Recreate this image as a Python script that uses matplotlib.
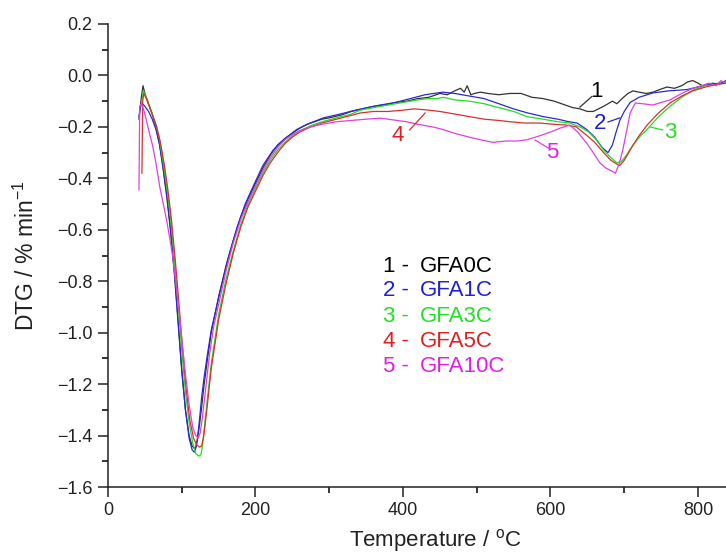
import matplotlib
matplotlib.use("Agg")
import matplotlib.pyplot as plt
from matplotlib.ticker import MultipleLocator

plt.rcParams['font.family'] = ['Liberation Sans', 'DejaVu Sans']
plt.rcParams['mathtext.fontset'] = 'custom'
plt.rcParams['mathtext.rm'] = 'Liberation Sans'
plt.rcParams['mathtext.it'] = 'Liberation Sans:italic'

# ---------------- data ----------------
T_0C = [42, 45, 47.5, 50, 55, 60, 65, 70, 75, 80, 85, 90, 95, 100, 105, 110, 114, 117, 119, 121, 124, 127, 130,
        135, 140, 150, 160, 170, 180, 190, 200, 210, 220, 230, 240, 250, 260, 270, 280, 290, 300, 315, 330, 345,
        360, 375, 390, 405, 420, 435, 450, 460, 470, 478, 483, 487, 492, 497, 505, 515, 530, 545, 560, 575, 590,
        605, 620, 630, 640, 650, 658, 665, 672, 678, 684, 690, 697, 705, 712, 720, 730, 739, 748, 758, 768, 778,
        786, 793, 800, 806, 812, 820, 828, 838]
y_0C = [-0.17, -0.09, -0.04, -0.07, -0.11, -0.15, -0.20, -0.27, -0.37, -0.48, -0.61, -0.77, -0.96, -1.15, -1.30,
        -1.40, -1.44, -1.45, -1.445, -1.42, -1.36, -1.29, -1.21, -1.10, -1.00, -0.86, -0.74, -0.64, -0.55, -0.48,
        -0.42, -0.36, -0.31, -0.27, -0.245, -0.225, -0.205, -0.19, -0.18, -0.17, -0.165, -0.155, -0.14, -0.13,
        -0.12, -0.115, -0.105, -0.10, -0.09, -0.085, -0.07, -0.075, -0.06, -0.05, -0.065, -0.04, -0.075, -0.07,
        -0.065, -0.07, -0.075, -0.07, -0.07, -0.085, -0.09, -0.10, -0.115, -0.125, -0.13, -0.14, -0.14, -0.13,
        -0.12, -0.11, -0.10, -0.11, -0.09, -0.07, -0.06, -0.065, -0.07, -0.065, -0.055, -0.045, -0.05, -0.04,
        -0.025, -0.02, -0.03, -0.04, -0.035, -0.03, -0.035, -0.02]

T_1C = [42, 44, 47, 50, 55, 60, 65, 70, 75, 80, 85, 90, 95, 100, 105, 110, 114, 117, 119, 121, 124, 127, 130, 134,
        140, 152, 163, 175, 186, 197, 210, 224, 240, 256, 270, 292, 315, 337, 369, 390, 410, 430, 454, 470, 490,
        510, 530, 550, 568, 590, 610, 625, 636, 649, 660, 670, 678, 684, 689, 694, 700, 708, 720, 739, 760, 785,
        800, 815, 830, 838]
y_1C = [-0.16, -0.12, -0.11, -0.12, -0.14, -0.17, -0.21, -0.27, -0.36, -0.47, -0.60, -0.76, -0.95, -1.14, -1.30,
        -1.41, -1.455, -1.465, -1.45, -1.42, -1.34, -1.25, -1.18, -1.10, -0.99, -0.84, -0.71, -0.59, -0.50, -0.43,
        -0.35, -0.29, -0.245, -0.21, -0.19, -0.165, -0.15, -0.134, -0.115, -0.105, -0.09, -0.075, -0.065, -0.07,
        -0.08, -0.09, -0.11, -0.13, -0.145, -0.16, -0.17, -0.18, -0.185, -0.21, -0.24, -0.28, -0.30, -0.27, -0.22,
        -0.175, -0.14, -0.105, -0.085, -0.068, -0.06, -0.055, -0.045, -0.035, -0.03, -0.03]

T_3C = [45, 48, 51, 55, 60, 65, 70, 75, 80, 85, 90, 95, 100, 105, 110, 115, 119, 123, 126, 128, 131, 135, 140, 150,
        160, 170, 180, 190, 200, 210, 220, 230, 240, 250, 260, 275, 290, 310, 330, 342, 360, 380, 400, 420, 435,
        446, 455, 470, 490, 510, 530, 550, 568, 590, 610, 626, 640, 652, 662, 672, 682, 690, 696, 703, 712, 722,
        731, 745, 762, 778, 793, 810, 825, 838]
y_3C = [-0.12, -0.06, -0.08, -0.11, -0.15, -0.19, -0.25, -0.34, -0.44, -0.56, -0.71, -0.89, -1.07, -1.23, -1.35,
        -1.43, -1.47, -1.48, -1.475, -1.44, -1.36, -1.25, -1.12, -0.93, -0.79, -0.68, -0.58, -0.50, -0.44, -0.38,
        -0.33, -0.29, -0.26, -0.235, -0.215, -0.195, -0.18, -0.165, -0.15, -0.135, -0.125, -0.115, -0.105, -0.095,
        -0.09, -0.09, -0.085, -0.095, -0.10, -0.11, -0.125, -0.14, -0.16, -0.17, -0.18, -0.185, -0.20, -0.22,
        -0.25, -0.29, -0.32, -0.34, -0.335, -0.31, -0.27, -0.235, -0.21, -0.165, -0.12, -0.085, -0.057, -0.04,
        -0.035, -0.03]

T_5C = [46, 47, 48.5, 52, 56, 61, 66, 71, 76, 81, 86, 91, 96, 101, 106, 111, 116, 120, 124, 127, 130, 134, 140,
        150, 160, 170, 180, 190, 200, 210, 220, 230, 240, 250, 260, 275, 290, 310, 330, 342, 360, 380, 400, 415,
        432, 450, 470, 490, 510, 530, 545, 565, 585, 605, 622, 635, 648, 660, 672, 682, 690, 694, 700, 710, 720,
        731, 745, 762, 778, 793, 810, 825, 838]
y_5C = [-0.38, -0.10, -0.07, -0.09, -0.12, -0.16, -0.20, -0.26, -0.34, -0.44, -0.56, -0.71, -0.88, -1.06, -1.22,
        -1.34, -1.41, -1.435, -1.445, -1.44, -1.40, -1.30, -1.14, -0.95, -0.81, -0.69, -0.59, -0.51, -0.45, -0.39,
        -0.34, -0.30, -0.265, -0.24, -0.22, -0.20, -0.185, -0.17, -0.155, -0.146, -0.14, -0.14, -0.135, -0.13,
        -0.134, -0.14, -0.15, -0.16, -0.17, -0.175, -0.18, -0.185, -0.185, -0.19, -0.193, -0.20, -0.23, -0.26,
        -0.30, -0.33, -0.345, -0.35, -0.33, -0.28, -0.235, -0.193, -0.15, -0.107, -0.08, -0.06, -0.045, -0.035,
        -0.03]

T_10C = [42, 43, 45, 47, 50, 55, 61, 65, 70, 75, 80, 87, 90, 95, 100, 105, 110, 115, 119, 122, 125, 128, 132, 137,
         143, 150, 160, 170, 180, 190, 200, 210, 220, 230, 240, 250, 260, 275, 290, 310, 330, 350, 369, 387, 405,
         420, 440, 454, 470, 490, 505, 522, 540, 555, 568, 585, 600, 613, 626, 637, 649, 658, 667, 675, 682, 688,
         693, 698, 703, 708, 715, 725, 739, 750, 762, 778, 793, 805, 815, 825, 831, 838]
y_10C = [-0.445, -0.12, -0.11, -0.12, -0.15, -0.21, -0.28, -0.34, -0.43, -0.50, -0.57, -0.69, -0.76, -0.88, -1.02,
         -1.16, -1.28, -1.37, -1.40, -1.41, -1.39, -1.33, -1.23, -1.10, -0.98, -0.89, -0.76, -0.65, -0.56, -0.49,
         -0.43, -0.37, -0.32, -0.28, -0.25, -0.23, -0.215, -0.20, -0.19, -0.18, -0.175, -0.17, -0.166, -0.173,
         -0.18, -0.19, -0.20, -0.21, -0.225, -0.24, -0.25, -0.26, -0.255, -0.255, -0.25, -0.235, -0.22, -0.205,
         -0.193, -0.22, -0.263, -0.30, -0.34, -0.36, -0.37, -0.38, -0.345, -0.29, -0.22, -0.146, -0.107, -0.11,
         -0.115, -0.105, -0.095, -0.07, -0.05, -0.04, -0.03, -0.04, -0.02, -0.03]

series_numbers = ["1", "2", "3", "4", "5"]
series_names = ["GFA0C", "GFA1C", "GFA3C", "GFA5C", "GFA10C"]
line_colors = ["#333333", "#2a2ad0", "#22dd22", "#d83030", "#e040e0"]
text_colors = ["#000000", "#1f1fd8", "#22e022", "#e02020", "#e020e0"]

x_ticks = [0, 200, 400, 600, 800]
y_ticks = [0.2, 0.0, -0.2, -0.4, -0.6, -0.8, -1.0, -1.2, -1.4, -1.6]

# ---------------- figure ----------------
fig = plt.figure(figsize=(7.26, 5.54), dpi=100)
ax = fig.add_axes([108 / 726, 67 / 554, 618 / 726, 463 / 554])

data = [(T_0C, y_0C), (T_1C, y_1C), (T_3C, y_3C), (T_5C, y_5C), (T_10C, y_10C)]
for (tx, ty), c in zip(data, line_colors):
    ax.plot(tx, ty, color=c, lw=0.9, solid_joinstyle='round')

ax.set_xlim(0, 838)
ax.set_ylim(-1.6, 0.2)
ax.set_xticks(x_ticks)
ax.set_yticks(y_ticks)
ax.set_yticklabels([f"{v:.1f}".replace("-", "\u2212") for v in y_ticks])
ax.xaxis.set_minor_locator(MultipleLocator(100))
ax.yaxis.set_minor_locator(MultipleLocator(0.1))
ax.tick_params(which='major', direction='out', length=7, width=1.1, labelsize=13, pad=4, colors='#222222')
ax.tick_params(which='minor', direction='out', length=4, width=1.1)
for s in ['top', 'right']:
    ax.spines[s].set_visible(False)
for s in ['left', 'bottom']:
    ax.spines[s].set_linewidth(1.1)
    ax.spines[s].set_color('#222222')

ax.set_xlabel("Temperature / $^{\\rm o}$C", fontsize=16, color='#222222')
ax.set_ylabel("DTG / % min$^{-1}$", fontsize=16.5, color='#222222')
ax.xaxis.set_label_coords(0.53, -0.087)
ax.yaxis.set_label_coords(-0.112, 0.5)

# legend-like text block
legend_y = [-0.741, -0.838, -0.936, -1.033, -1.13]
for num, name, c, yy in zip(series_numbers, series_names, text_colors, legend_y):
    ax.text(373, yy, f"{num} -", color=c, fontsize=16, va='center', ha='left')
    ax.text(423, yy, name, color=c, fontsize=16, va='center', ha='left')

# curve labels with leader lines
labels = [("1", 662, -0.064, (656, -0.082), (640, -0.123)),
          ("2", 667, -0.185, (678, -0.181), (694, -0.165)),
          ("3", 762, -0.22, (752, -0.212), (735, -0.20)),
          ("4", 393, -0.232, (409, -0.212), (430, -0.146)),
          ("5", 603, -0.30, (597, -0.282), (579, -0.251))]
for (lab, lx, ly, p1, p2), c, lc in zip(labels, text_colors, line_colors):
    ax.text(lx, ly, lab, color=c, fontsize=16, ha='center', va='center')
    ax.plot([p1[0], p2[0]], [p1[1], p2[1]], color=lc, lw=0.9)

fig.savefig("out.png", dpi=100)
